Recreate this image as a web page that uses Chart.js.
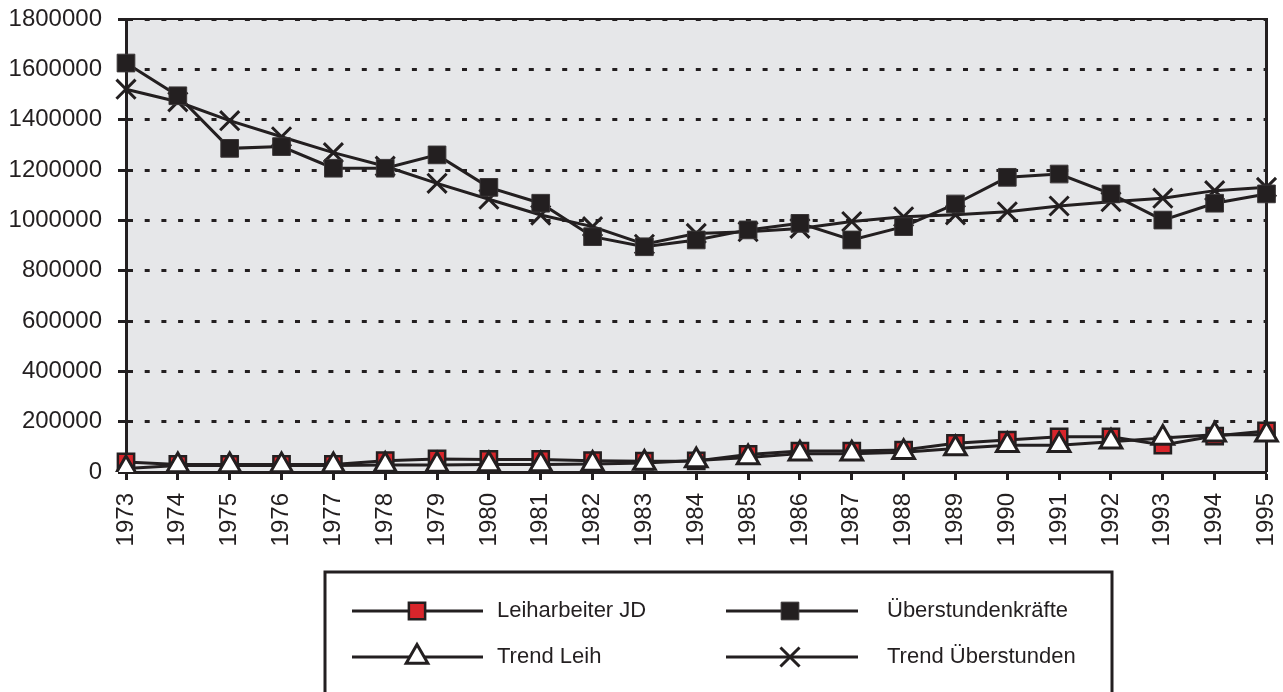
<!DOCTYPE html>
<html>
<head>
<meta charset="utf-8">
<script src="https://cdn.jsdelivr.net/npm/chart.js@4.4.1/dist/chart.umd.min.js"></script>
<style>
  html, body { margin: 0; padding: 0; background: #ffffff; }
  #wrap { width: 1283px; height: 692px; position: relative; overflow: hidden; }
</style>
</head>
<body>
<div id="wrap"><canvas id="chart" width="1283" height="692"></canvas></div>
<script>
// Years on the category axis
const years = ['1973','1974','1975','1976','1977','1978','1979','1980','1981','1982','1983','1984',
               '1985','1986','1987','1988','1989','1990','1991','1992','1993','1994','1995'];

// Series values
const leiharbeiterJD = [40000, 30000, 30000, 30000, 30000, 45000, 52000, 50000, 50000, 45000, 43000, 44000,
                        70000, 83000, 83000, 87000, 114000, 127000, 140000, 140000, 107000, 143000, 163000];
const ueberstundenkraefte = [1625000, 1495000, 1286000, 1293000, 1207000, 1207000, 1260000, 1131000, 1068000, 935000, 895000, 922000,
                             962000, 988000, 922000, 975000, 1065000, 1171000, 1184000, 1105000, 1001000, 1068000, 1105000];
const trendLeih = [14000, 26000, 26000, 26000, 26000, 28000, 28000, 30000, 30000, 32000, 36000, 46000,
                   58000, 73000, 73000, 78000, 93000, 106000, 106000, 120000, 135000, 148000, 148000];
const trendUeberstunden = [1521000, 1471000, 1396000, 1332000, 1269000, 1215000, 1147000, 1084000, 1021000, 975000, 905000, 948000,
                           955000, 968000, 995000, 1014000, 1022000, 1034000, 1057000, 1074000, 1088000, 1118000, 1131000];

// Value axis range
const yMin = 0;
const yMax = 1800000;
const yStep = 200000;

const INK = '#231f20';
const PLOT_BG = '#e6e7e9';
const FONT = '"Liberation Sans", Arial, Helvetica, sans-serif';

// Gray plot background and frame around the plotting area
const plotFrame = {
  id: 'plotFrame',
  beforeDraw(chart) {
    const { ctx, chartArea: a } = chart;
    ctx.save();
    ctx.fillStyle = '#ffffff';
    ctx.fillRect(0, 0, chart.width, chart.height);
    ctx.fillStyle = PLOT_BG;
    ctx.fillRect(a.left, a.top, a.right - a.left, a.bottom - a.top);
    ctx.restore();
  },
  beforeDatasetsDraw(chart) {
    const { ctx, chartArea: a } = chart;
    ctx.save();
    ctx.strokeStyle = INK;
    ctx.lineWidth = 2;
    ctx.beginPath();
    ctx.moveTo(a.left, a.top);
    ctx.lineTo(a.right, a.top);
    ctx.stroke();
    ctx.lineWidth = 3;
    ctx.beginPath();
    ctx.moveTo(a.right, a.top - 1);
    ctx.lineTo(a.right, a.bottom);
    ctx.stroke();
    ctx.restore();
  }
};

// Boxed two-column legend below the chart
const boxedLegend = {
  id: 'boxedLegend',
  afterDraw(chart) {
    const { ctx } = chart;
    const box = { left: 325, top: 572, right: 1112, bottom: 700 };
    const cols = [
      { lineL: 352, lineR: 483, mark: 417, text: 497 },
      { lineL: 726, lineR: 858, mark: 790, text: 887 }
    ];
    const rows = [611, 657];

    ctx.save();
    ctx.fillStyle = '#ffffff';
    ctx.fillRect(box.left, box.top, box.right - box.left, box.bottom - box.top);
    ctx.strokeStyle = INK;
    ctx.lineWidth = 3;
    ctx.strokeRect(box.left, box.top, box.right - box.left, box.bottom - box.top);

    chart.data.datasets.forEach((ds, i) => {
      const c = cols[i % 2];
      const y = rows[Math.floor(i / 2)];
      ctx.strokeStyle = ds.borderColor;
      ctx.lineWidth = 3;
      ctx.beginPath();
      ctx.moveTo(c.lineL, y);
      ctx.lineTo(c.lineR, y);
      ctx.stroke();

      const opts = {
        pointStyle: ds.pointStyle,
        radius: ds.pointRadius,
        borderWidth: ds.pointBorderWidth,
        rotation: 0
      };
      ctx.fillStyle = ds.pointBackgroundColor;
      ctx.strokeStyle = ds.pointBorderColor;
      ctx.lineWidth = ds.pointBorderWidth;
      Chart.helpers.drawPoint(ctx, opts, c.mark, y);

      ctx.fillStyle = INK;
      ctx.font = '22px ' + FONT;
      ctx.textAlign = 'left';
      ctx.textBaseline = 'middle';
      ctx.fillText(ds.label, c.text, y);
    });
    ctx.restore();
  }
};

const ctx = document.getElementById('chart').getContext('2d');
new Chart(ctx, {
  type: 'line',
  data: {
    labels: years,
    datasets: [
      {
        label: 'Leiharbeiter JD',
        data: leiharbeiterJD,
        borderColor: INK,
        borderWidth: 3,
        pointStyle: 'rect',
        pointRadius: 11.5,
        pointBackgroundColor: '#d8252b',
        pointBorderColor: INK,
        pointBorderWidth: 2.5,
        tension: 0,
        order: 1
      },
      {
        label: 'Überstundenkräfte',
        data: ueberstundenkraefte,
        borderColor: INK,
        borderWidth: 3,
        pointStyle: 'rect',
        pointRadius: 12.5,
        pointBackgroundColor: INK,
        pointBorderColor: '#3a3637',
        pointBorderWidth: 1,
        tension: 0,
        order: 2
      },
      {
        label: 'Trend Leih',
        data: trendLeih,
        borderColor: INK,
        borderWidth: 3,
        pointStyle: 'triangle',
        pointRadius: 12.5,
        pointBackgroundColor: '#ffffff',
        pointBorderColor: INK,
        pointBorderWidth: 3,
        tension: 0,
        order: 0
      },
      {
        label: 'Trend Überstunden',
        data: trendUeberstunden,
        borderColor: INK,
        borderWidth: 3,
        pointStyle: 'crossRot',
        pointRadius: 13.5,
        pointBackgroundColor: INK,
        pointBorderColor: INK,
        pointBorderWidth: 3,
        tension: 0,
        order: 3
      }
    ]
  },
  options: {
    responsive: false,
    animation: false,
    devicePixelRatio: 1,
    events: [],
    layout: { padding: { top: 19, right: 13, left: 0, bottom: 120 } },
    plugins: {
      legend: { display: false },
      tooltip: { enabled: false },
      title: { display: false }
    },
    scales: {
      x: {
        type: 'category',
        offset: false,
        afterFit(scale) {
          scale.height = 100;
          scale.paddingLeft = 0;
          scale.paddingRight = 0;
        },
        grid: {
          display: true,
          drawOnChartArea: false,
          drawTicks: true,
          tickLength: 8,
          tickWidth: 3,
          tickColor: INK,
          tickBorderDash: [],
          color: INK
        },
        border: { display: true, color: INK, width: 3 },
        ticks: {
          autoSkip: false,
          minRotation: 90,
          maxRotation: 90,
          padding: 13,
          color: INK,
          font: { family: FONT, size: 24, lineHeight: 1 }
        }
      },
      y: {
        min: yMin,
        max: yMax,
        afterFit(scale) {
          scale.width = 126;
          scale.paddingTop = 0;
          scale.paddingBottom = 0;
        },
        grid: {
          color: INK,
          lineWidth: 3,
          drawTicks: true,
          tickLength: 8,
          tickWidth: 3,
          tickColor: INK,
          tickBorderDash: [],
          borderDash: [5, 11.7]
        },
        border: { display: true, color: INK, width: 3, dash: [5, 11.7] },
        ticks: {
          stepSize: yStep,
          padding: 16,
          color: INK,
          font: { family: FONT, size: 24, lineHeight: 1 },
          callback: (v) => String(v)
        }
      }
    }
  },
  plugins: [plotFrame, boxedLegend]
});
</script>
</body>
</html>
